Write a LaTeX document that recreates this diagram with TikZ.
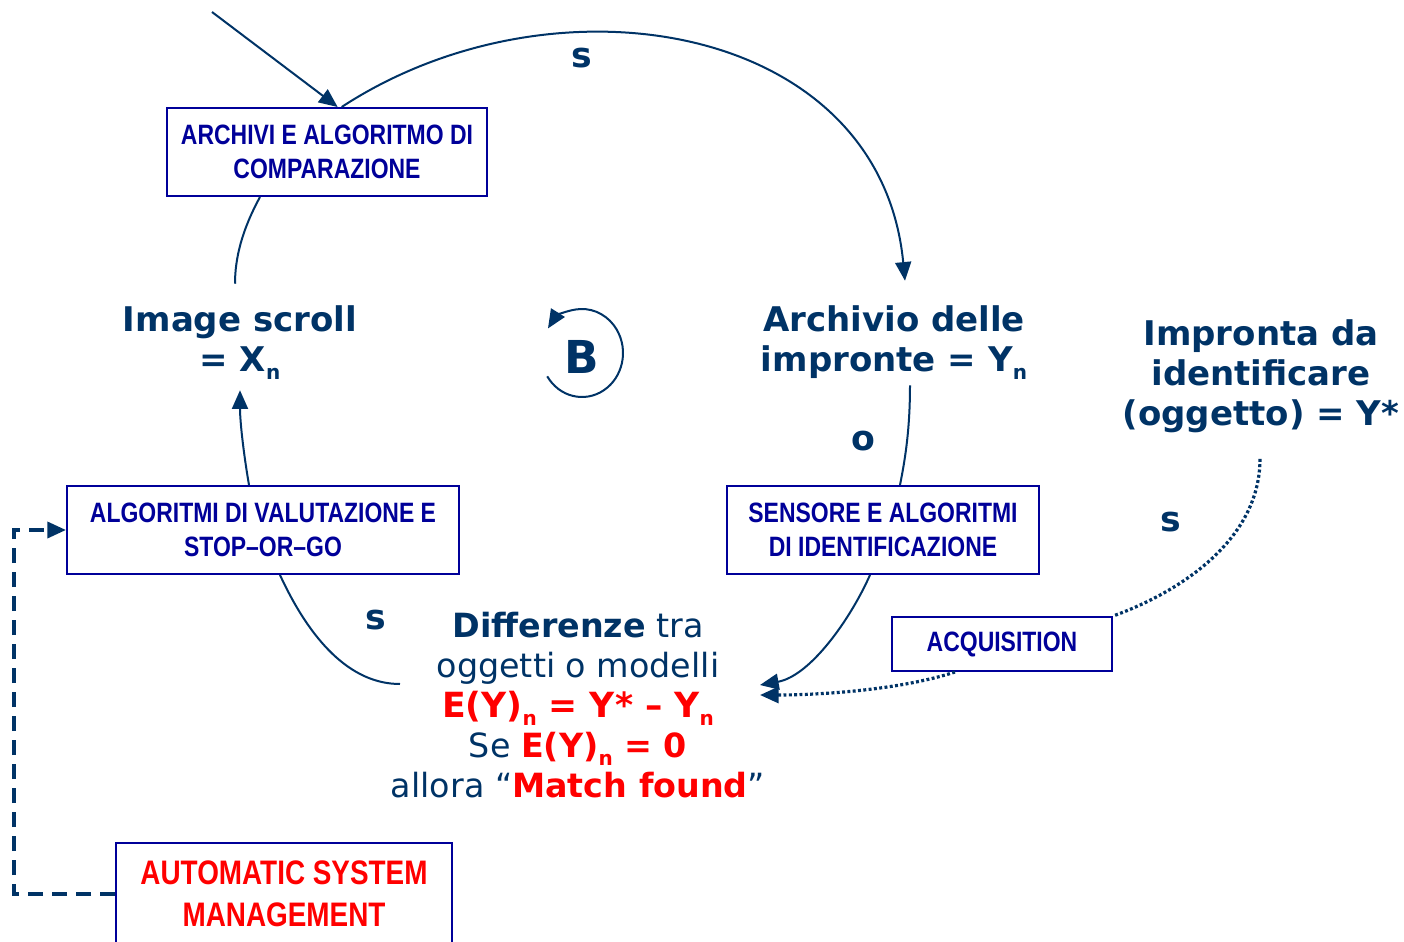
\documentclass[tikz,border=0pt]{standalone}
\usepackage{fontspec}
\setmainfont{DejaVu Sans}
\newfontfamily\narrowfont[FakeStretch=0.82]{Liberation Sans}
\usetikzlibrary{arrows.meta}
\definecolor{ink}{RGB}{0,51,102}
\definecolor{navy}{RGB}{0,0,153}
\definecolor{alert}{RGB}{255,0,0}
% lowered small index (X_n, Y_n)
\newcommand\dn[1]{\raisebox{-0.24em}{\fontsize{15pt}{15pt}\selectfont #1}}

\begin{document}
\begin{tikzpicture}[x=0.75pt,y=-0.75pt,
  box/.style={draw=navy, line width=1.5pt, fill=white, inner sep=0pt, align=center, text=navy,
    font=\narrowfont\bfseries\fontsize{21pt}{26pt}\selectfont, minimum height=66pt},
  lbl/.style={text=ink, align=center, inner sep=0pt,
    font=\bfseries\fontsize{25.5pt}{30pt}\selectfont},
  polarity/.style={text=ink, inner sep=0pt, font=\bfseries\fontsize{26pt}{30pt}\selectfont},
  flow/.style={draw=ink, line width=1.5pt},
  head/.style={-{Triangle[length=14pt,width=12pt]}},
  dots/.style={draw=ink, line width=2.4pt, dash pattern=on 2.2pt off 1.8pt},
  mgmt/.style={draw=ink, line width=2.7pt, dash pattern=on 11pt off 7pt}
]
\useasboundingbox (0,0) rectangle (1404,942);
\clip (0,0) rectangle (1404,942);

% process boxes
\node[box, minimum width=240pt] (cmp) at (327,152) {ARCHIVI E ALGORITMO DI\\COMPARAZIONE};
\node[box, minimum width=294pt] (eval) at (263,530) {ALGORITMI DI VALUTAZIONE E\\STOP–OR–GO};
\node[box, minimum width=234pt] (sens) at (883,530) {SENSORE E ALGORITMI\\DI IDENTIFICAZIONE};
\node[box, minimum width=165pt, minimum height=40.5pt] (acq) at (1002,644) {ACQUISITION};
\node[box, minimum width=252pt, minimum height=76.5pt, text=alert,
  font=\narrowfont\bfseries\fontsize{25.5pt}{31.5pt}\selectfont] (asm) at (284,894)
  {AUTOMATIC SYSTEM\\MANAGEMENT};

% variables
\node[lbl] (xs) at (240,343) {Image scroll\\= X\dn{n}};
\node[lbl] (ys) at (894,343) {Archivio delle\\impronte = Y\dn{n}};
\node[lbl] (yt) at (1261,376) {Impronta da\\identificare\\(oggetto) = Y*};
\node[lbl, font=\fontsize{25pt}{30pt}\selectfont] (diff) at (578,705)
  {{\bfseries Differenze} tra\\
   oggetti o modelli\\
   {\color{alert}\bfseries\fontsize{26pt}{30pt}\selectfont E(Y)\dn{n} = Y* – Y\dn{n}}\\
   Se {\color{alert}\bfseries E(Y)\dn{n} = 0}\\
   allora “{\color{alert}\bfseries Match found}”};

% link polarities and loop marker
\node[polarity] (s1) at (582,58) {s};
\node[polarity] (s2) at (1171,522) {s};
\node[polarity] (s3) at (376,620) {s};
\node[polarity] (o1) at (863,441) {o};
\node[polarity, font=\bfseries\fontsize{34pt}{34pt}\selectfont] (loop) at (582,357) {B};

% free ends
\coordinate (src) at (212,12);
\coordinate (diffL) at (400,684);
\coordinate (diffR1) at (760,685);
\coordinate (diffR2) at (760,695);

% connectors
\draw[flow, head] (src) -- ([xshift=8pt]cmp.north);
\draw[flow, head] ([xshift=11pt]cmp.north) .. controls (554,-32) and (880,22) .. ([shift={(11,-25)}]ys.north);
\draw[flow] ([shift={(-67,0)}]cmp.south) .. controls (242,230) and (235,258) .. ([shift={(-5,-22)}]xs.north);
\draw[flow, head] ([shift={(-14,0)}]eval.north) .. controls (243,450) and (240,420) .. ([shift={(0,10)}]xs.south);
\draw[flow] ([shift={(17,0)}]eval.south) .. controls (310,640) and (350,684) .. (diffL);
\draw[flow] ([shift={(16,5)}]ys.south) .. controls (910,430) and (905,460) .. ([shift={(17,0)}]sens.north);
\draw[flow, head] ([shift={(-13,0)}]sens.south) .. controls (850,620) and (810,676) .. (diffR1);
\draw[dots] ([shift={(-1,26)}]yt.south) .. controls (1260,540) and (1180,592) .. (acq.north east);
\draw[dots, head] ([shift={(-47,0)}]acq.south) .. controls (900,690) and (820,695) .. (diffR2);
\draw[mgmt, head] (asm.west) -- ++(-101,0) |- (eval.west);

% balancing loop arrow
\draw[flow, head] ([shift={(0,-4)}]loop.center) ++(148:41 and 44)
  arc[start angle=148, end angle=-146, x radius=41, y radius=44];
\end{tikzpicture}
\end{document}
